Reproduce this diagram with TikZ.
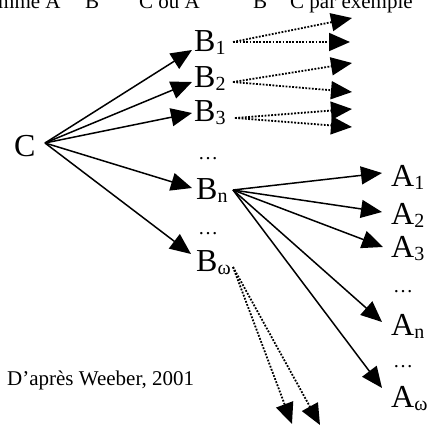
\documentclass[tikz,border=0pt]{standalone}
\usepackage{fontspec}
\setmainfont{Liberation Serif}
\usetikzlibrary{arrows.meta}
\newcommand\mysub[1]{\raisebox{-3pt}{\fontsize{20}{20}\selectfont #1}}
\begin{document}
\begin{tikzpicture}[x=1pt,y=-1pt,
 lbl/.style={anchor=base west, inner sep=0pt, font=\fontsize{32}{32}\selectfont},
 small/.style={anchor=base west, inner sep=0pt, font=\fontsize{21}{21}\selectfont},
 sol/.style={line width=1.5pt, -{Triangle[length=21pt,width=18pt]}},
 dotarr/.style={line width=1.8pt, dash pattern=on 1.8pt off 1.5pt, -{Triangle[length=21pt,width=18pt]}},
]
\useasboundingbox (0,0) rectangle (429,425);
\clip (0,0) rectangle (429,425);
% cut-off top line
\node[small] (t1) at (-2,9) {mme A};
\node[small] (t2) at (85,9) {B};
\node[small] (t3) at (139,9) {C ou A};
\node[small] (t4) at (253,9) {B};
\node[small] (t5) at (290,9) {C par exemple};
% labels
\node[lbl] (C) at (14,157) {C};
\node[lbl] (B1) at (194,52) {B\mysub{1}};
\node[lbl] (B2) at (194,88) {B\mysub{2}};
\node[lbl] (B3) at (194,122) {B\mysub{3}};
\node[lbl] (d1) at (198,160) {\fontsize{20}{20}\selectfont …};
\node[lbl] (Bn) at (196,200) {B\mysub{n}};
\node[lbl] (d2) at (198,235) {\fontsize{20}{20}\selectfont …};
\node[lbl] (Bw) at (196,272) {B\mysub{ω}};
\node[lbl] (A1) at (391,187) {A\mysub{1}};
\node[lbl] (A2) at (391,225) {A\mysub{2}};
\node[lbl] (A3) at (391,258) {A\mysub{3}};
\node[lbl] (d3) at (393,293) {\fontsize{20}{20}\selectfont …};
\node[lbl] (An) at (391,335) {A\mysub{n}};
\node[lbl] (d4) at (393,367) {\fontsize{20}{20}\selectfont …};
\node[lbl] (Aw) at (391,407) {A\mysub{ω}};
\node[small] (cred) at (7,385) {D’après Weeber, 2001};
% ports
\coordinate (pC) at (45,143);
\coordinate (inB1) at (192,50);
\coordinate (inB2) at (192,82);
\coordinate (inB3) at (192,113);
\coordinate (inBn) at (192,188);
\coordinate (inBw) at (191,254);
\coordinate (pB1) at (233,42);
\coordinate (pB2) at (233,82);
\coordinate (pB3) at (235,118);
\coordinate (pBn) at (233,190);
\coordinate (pBw) at (233,267);
\coordinate (e1) at (352,18);
\coordinate (e2) at (350,42);
\coordinate (e3) at (352,63);
\coordinate (e4) at (352,92);
\coordinate (e5) at (352,109);
\coordinate (e6) at (352,127);
\coordinate (inA1) at (382,173);
\coordinate (inA2) at (382,212);
\coordinate (inA3) at (383,247);
\coordinate (inAn) at (382,322);
\coordinate (inAw) at (382,388);
\coordinate (f1) at (292,424);
\coordinate (f2) at (320,425);
% connectors
\foreach \t in {inB1,inB2,inB3,inBn,inBw} \draw[sol] (pC) -- (\t);
\draw[dotarr] (pB1) -- (e1);
\draw[dotarr] (pB1) -- (e2);
\draw[dotarr] (pB2) -- (e3);
\draw[dotarr] (pB2) -- (e4);
\draw[dotarr] (pB3) -- (e5);
\draw[dotarr] (pB3) -- (e6);
\foreach \t in {inA1,inA2,inA3,inAn,inAw} \draw[sol] (pBn) -- (\t);
\draw[dotarr] (pBw) -- (f1);
\draw[dotarr] (pBw) -- (f2);
\end{tikzpicture}
\end{document}
